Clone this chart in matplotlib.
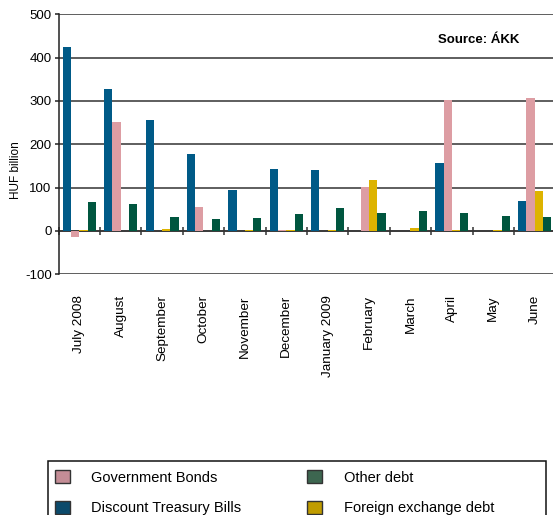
import numpy as np
import matplotlib
matplotlib.use('Agg')
import matplotlib.pyplot as plt
from matplotlib.patches import Patch, Rectangle

plt.rcParams['font.family'] = ['Liberation Sans', 'DejaVu Sans']
plt.rcParams['axes.unicode_minus'] = False

months = ['July 2008', 'August', 'September', 'October', 'November', 'December',
          'January 2009', 'February', 'March', 'April', 'May', 'June']

# HUF billion
discount_bills = [425, 328, 257, 178, 95, 143, 141, 0, 0, 157, 0, 69]
gov_bonds = [-15, 252, 1, 56, 0, 3, 0, 102, 1, 303, 0, 308]
fx_debt = [3, 0, 5, 0, 3, 3, 3, 118, 8, 3, 3, 93]
other_debt = [68, 63, 33, 28, 31, 40, 52, 42, 47, 42, 35, 33]

series = [
    (discount_bills, '#005a87', 'Discount Treasury Bills'),
    (gov_bonds, '#dd9da3', 'Government Bonds'),
    (fx_debt, '#ddb300', 'Foreign exchange debt'),
    (other_debt, '#00563f', 'Other debt'),
]

fig = plt.figure(figsize=(5.53, 5.15), dpi=100)
ax = fig.add_axes([58.6 / 553, 1 - 274.3 / 515, 496.8 / 553, 260 / 515])

x = np.arange(len(months))
w = 0.2
for i, (vals, col, lab) in enumerate(series):
    ax.bar(x + (i - 1.5) * w, vals, width=w, color=col, zorder=3, linewidth=0)

ax.set_xlim(-0.5, len(months) - 0.5)
ax.set_ylim(-100, 500)
ax.set_yticks(np.arange(-100, 501, 100))
ax.yaxis.grid(True, color='#333333', linewidth=1.1, zorder=1)
ax.set_axisbelow(True)
for s in ['top', 'right', 'bottom']:
    ax.spines[s].set_visible(False)
ax.spines['left'].set_color('#222222')
ax.spines['left'].set_linewidth(1.1)
ax.tick_params(axis='y', direction='out', length=3, width=1.1, color='#222222',
               pad=2, labelsize=9.5)

ax.set_xticks(x)
ax.set_xticklabels(months, rotation=90, fontsize=9.7, va='top', ha='center')
ax.tick_params(axis='x', length=0, pad=15)

# zero line with group separators
zax = ax.secondary_xaxis(1 / 6)
zax.set_xticks(np.arange(len(months) + 1) - 0.5)
zax.set_xticklabels([])
zax.spines['bottom'].set_color('#333333')
zax.spines['bottom'].set_linewidth(1.1)
zax.tick_params(axis='x', direction='inout', length=6, width=1.1, color='#333333')

ax.set_ylabel('HUF billion', fontsize=8.5)
ax.yaxis.set_label_coords(-0.074, 0.4)

ax.text(0.927, 0.9, 'Source: ÁKK', transform=ax.transAxes, ha='right', va='center',
        fontsize=9.5, fontweight='bold')

# legend
handles = [
    Patch(facecolor='#c48d96', edgecolor='#333333', label='Government Bonds'),
    Patch(facecolor='#0b4a6b', edgecolor='#333333', label='Discount Treasury Bills'),
    Patch(facecolor='#3d6650', edgecolor='#333333', label='Other debt'),
    Patch(facecolor='#c09c00', edgecolor='#333333', label='Foreign exchange debt'),
]
fig.legend(handles=handles, ncol=2, loc='upper left',
           bbox_to_anchor=(55 / 553, 1 - 470 / 515), bbox_transform=fig.transFigure,
           frameon=False, fontsize=10.5, borderpad=0, borderaxespad=0,
           handlelength=1.0, handleheight=1.0, handletextpad=1.5,
           columnspacing=4.5, labelspacing=1.1)
fig.patches.append(Rectangle((48.3 / 553, -0.05), (546 - 48.3) / 553, 0.05 + 1 - 461 / 515,
                             transform=fig.transFigure, fill=False,
                             edgecolor='#111111', linewidth=1.1))

fig.savefig('out.png', dpi=100)
